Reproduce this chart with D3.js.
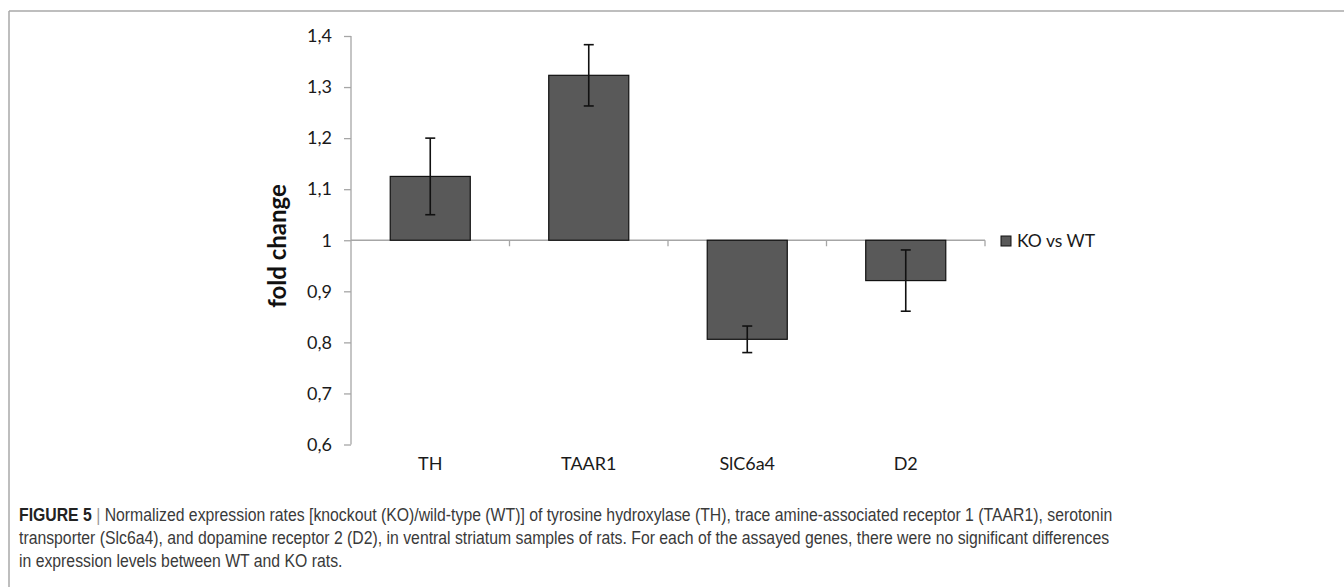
<!DOCTYPE html>
<html>
<head>
<meta charset="utf-8">
<script src="https://cdn.jsdelivr.net/npm/d3@7"></script>
<style>
  html, body { margin: 0; padding: 0; background: #fff; }
  svg { display: block; }
</style>
</head>
<body>
<svg id="chart" width="1344" height="587"></svg>
<script>
// ---- data ----
const categories = ["TH", "TAAR1", "SlC6a4", "D2"];
const foldChange = [1.125, 1.323, 0.806, 0.921];
const errorSize = [0.075, 0.06, 0.026, 0.06];
const yTicks = [0.6, 0.7, 0.8, 0.9, 1.0, 1.1, 1.2, 1.3, 1.4];
const seriesName = "KO vs WT";
const yTitle = "fold change";
const captionBold = "FIGURE 5";
const captionLines = [
  " | Normalized expression rates [knockout (KO)/wild-type (WT)] of tyrosine hydroxylase (TH), trace amine-associated receptor 1 (TAAR1), serotonin",
  "transporter (Slc6a4), and dopamine receptor 2 (D2), in ventral striatum samples of rats. For each of the assayed genes, there were no significant differences",
  "in expression levels between WT and KO rats."
];

const svg = d3.select("#chart");
const chartFont = "Lato, 'Open Sans', sans-serif";
const capFont = "'Liberation Sans', Arial, sans-serif";

// frame (top and left border)
svg.append("line").attr("x1", 9).attr("x2", 1344).attr("y1", 11).attr("y2", 11)
  .attr("stroke", "#a8a8a8").attr("stroke-width", 1.5);
svg.append("line").attr("x1", 9).attr("x2", 9).attr("y1", 11).attr("y2", 587)
  .attr("stroke", "#a8a8a8").attr("stroke-width", 1.5);

// scales
const y = d3.scaleLinear().domain([0.6, 1.4]).range([444.5, 36]);
const x = d3.scaleBand().domain(categories).range([351, 985]).padding(0);
const barW = x.bandwidth() * 0.505;
const axisColor = "#a6a6a6";

// y axis
const yAxis = d3.axisLeft(y).tickValues(yTicks).tickSize(7).tickSizeOuter(0)
  .tickFormat(d => d === 1 ? "1" : d3.format(".1f")(d).replace(".", ","));
const gy = svg.append("g").attr("transform", "translate(351,0)").call(yAxis);
gy.select(".domain").attr("stroke", axisColor).attr("stroke-width", 1.3);
gy.selectAll(".tick line").attr("stroke", axisColor).attr("stroke-width", 1.3);
gy.selectAll(".tick text").attr("x", -19).attr("font-family", chartFont)
  .attr("font-size", 18).attr("fill", "#1a1a1a");
gy.select(".domain").attr("d", `M0,${y(0.6)}V${y(1.4)}`);

// x axis at y=1 with ticks between categories
const bounds = categories.map(c => x(c) + x.bandwidth());
svg.append("line").attr("x1", 351).attr("x2", 985).attr("y1", y(1)).attr("y2", y(1))
  .attr("stroke", axisColor).attr("stroke-width", 1.3);
svg.selectAll(".xtick").data(bounds).join("line").attr("class", "xtick")
  .attr("x1", d => d).attr("x2", d => d).attr("y1", y(1)).attr("y2", y(1) + 6)
  .attr("stroke", axisColor).attr("stroke-width", 1.3);

// bars
const data = categories.map((c, i) => ({ c, v: foldChange[i], e: errorSize[i] }));
svg.selectAll(".bar").data(data).join("rect").attr("class", "bar")
  .attr("x", d => x(d.c) + (x.bandwidth() - barW) / 2)
  .attr("width", barW)
  .attr("y", d => Math.min(y(d.v), y(1)))
  .attr("height", d => Math.abs(y(d.v) - y(1)))
  .attr("fill", "#595959").attr("stroke", "#111").attr("stroke-width", 1.2);

// error bars
const eb = svg.selectAll(".err").data(data).join("g").attr("class", "err")
  .attr("stroke", "#111").attr("stroke-width", 1.6);
eb.append("line")
  .attr("x1", d => x(d.c) + x.bandwidth() / 2).attr("x2", d => x(d.c) + x.bandwidth() / 2)
  .attr("y1", d => y(d.v + d.e)).attr("y2", d => y(d.v - d.e));
[1, -1].forEach(s => {
  eb.append("line")
    .attr("x1", d => x(d.c) + x.bandwidth() / 2 - 5).attr("x2", d => x(d.c) + x.bandwidth() / 2 + 5)
    .attr("y1", d => y(d.v + s * d.e)).attr("y2", d => y(d.v + s * d.e));
});

// category labels
svg.selectAll(".clab").data(categories).join("text").attr("class", "clab")
  .attr("x", d => x(d) + x.bandwidth() / 2).attr("y", 470)
  .attr("text-anchor", "middle").attr("font-family", chartFont)
  .attr("font-size", 18).attr("fill", "#1a1a1a").text(d => d);

// y title
svg.append("text").attr("transform", "translate(286,246) rotate(-90)")
  .attr("text-anchor", "middle").attr("font-family", chartFont).attr("font-weight", "bold")
  .attr("font-size", 24).attr("fill", "#111").text(yTitle);

// legend
svg.append("rect").attr("x", 1001).attr("y", 236).attr("width", 10).attr("height", 10)
  .attr("fill", "#595959").attr("stroke", "#111").attr("stroke-width", 1);
svg.append("text").attr("x", 1017).attr("y", 247).attr("font-family", chartFont)
  .attr("font-size", 17.5).attr("fill", "#1a1a1a").text(seriesName);

// caption (condensed by horizontal scaling to match the reference width)
const capSize = 18.5;
const baselines = [521, 544, 567];
const capG = svg.append("g");
const t0 = capG.append("text").attr("x", 0).attr("y", baselines[0])
  .attr("font-family", capFont).attr("font-size", capSize).attr("fill", "#3a3a3a");
t0.append("tspan").attr("font-weight", "bold").attr("fill", "#222").text(captionBold);
t0.append("tspan").attr("fill", "#999").text(" |");
t0.append("tspan").text(captionLines[0].slice(2));
captionLines.slice(1).forEach((l, i) => {
  capG.append("text").attr("x", 0).attr("y", baselines[i + 1])
    .attr("font-family", capFont).attr("font-size", capSize).attr("fill", "#3a3a3a").text(l);
});
const w0 = t0.node().getComputedTextLength();
const sx = 1094 / w0;
capG.attr("transform", `translate(19,0) scale(${sx},1)`);
</script>
</body>
</html>
